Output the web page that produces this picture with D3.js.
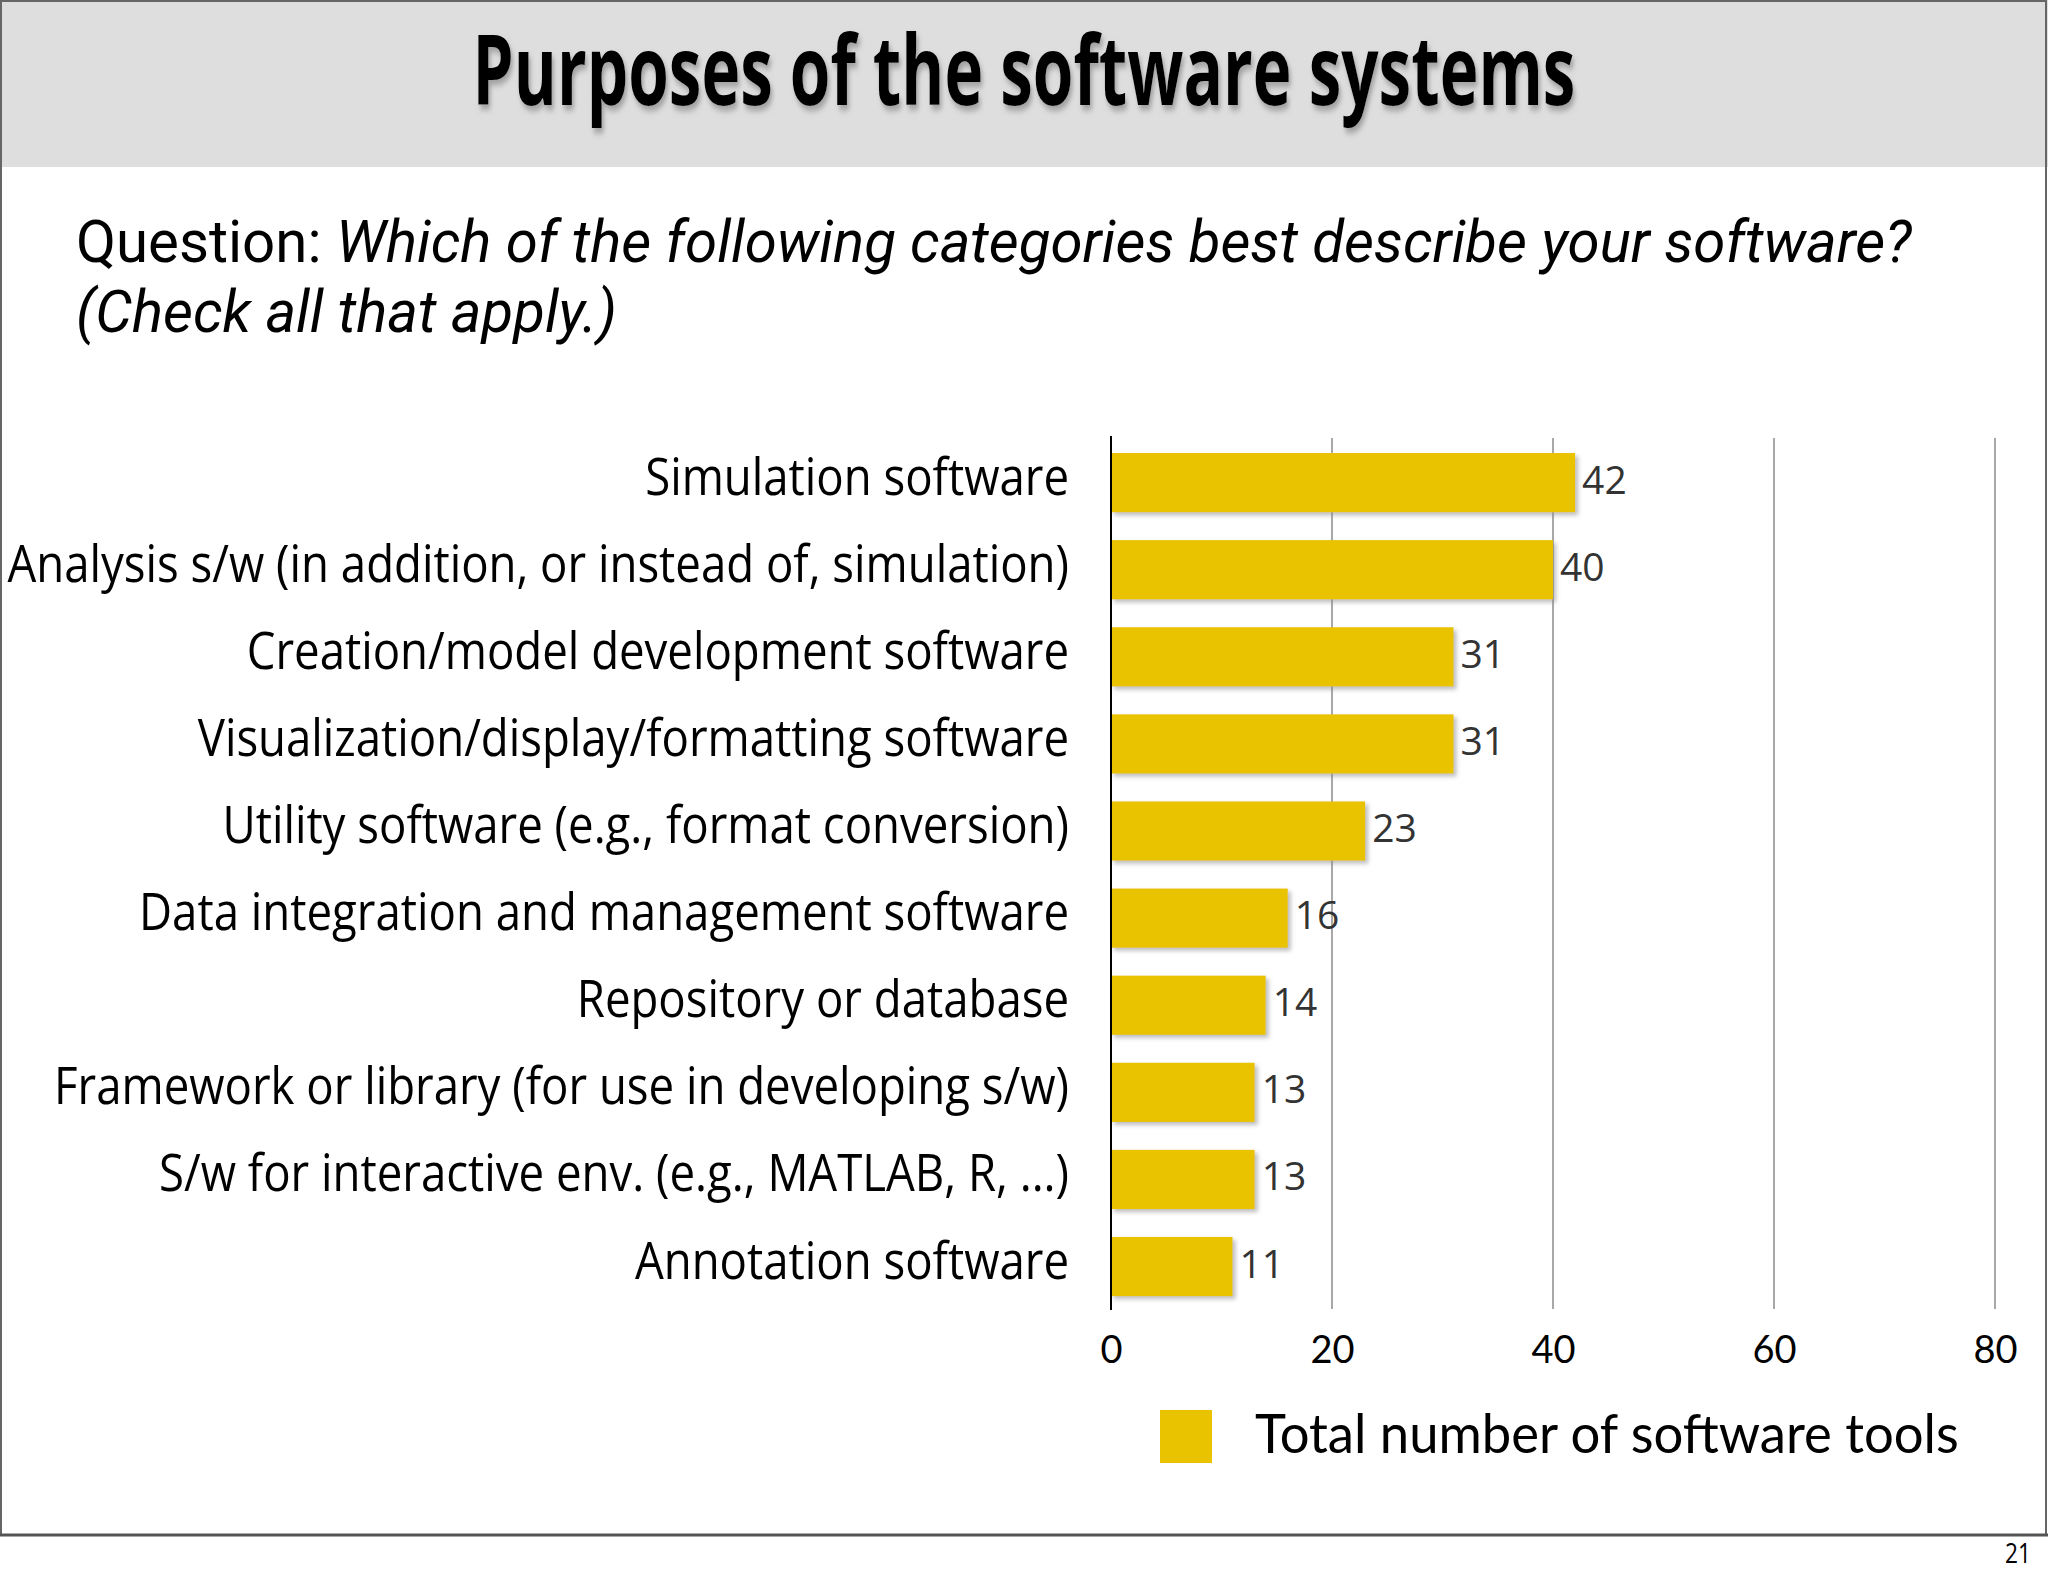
<!DOCTYPE html>
<html>
<head>
<meta charset="utf-8">
<script src="https://cdn.jsdelivr.net/npm/d3@7"></script>
<style>
  html, body { margin: 0; padding: 0; background: #fff; }
  svg { display: block; }
</style>
</head>
<body>
<div id="chart"></div>
<script>
// datos del grafico
const categories = [
  "Simulation software",
  "Analysis s/w (in addition, or instead of, simulation)",
  "Creation/model development software",
  "Visualization/display/formatting software",
  "Utility software (e.g., format conversion)",
  "Data integration and management software",
  "Repository or database",
  "Framework or library (for use in developing s/w)",
  "S/w for interactive env. (e.g., MATLAB, R, ...)",
  "Annotation software"
];
const values = [42, 40, 31, 31, 23, 16, 14, 13, 13, 11];
const tickValues = [0, 20, 40, 60, 80];
const seriesName = "Total number of software tools";

const WIDTH = 2048;
const HEIGHT = 1576;
const BAR_COLOR = "#e9c200";

const svg = d3.select("#chart").append("svg")
    .attr("width", WIDTH)
    .attr("height", HEIGHT);

const defs = svg.append("defs");
defs.append("filter").attr("id", "titleShadow")
    .attr("x", "-5%").attr("y", "-20%").attr("width", "110%").attr("height", "150%")
  .append("feDropShadow")
    .attr("dx", 3).attr("dy", 5).attr("stdDeviation", 3)
    .attr("flood-color", "#777").attr("flood-opacity", 0.6);
defs.append("filter").attr("id", "barShadow")
    .attr("x", "-5%").attr("y", "-20%").attr("width", "110%").attr("height", "150%")
  .append("feDropShadow")
    .attr("dx", 3).attr("dy", 3).attr("stdDeviation", 2)
    .attr("flood-color", "#888").attr("flood-opacity", 0.55);

// encoge el texto en horizontal hasta el ancho pedido
function fitWidth(textSel, x, y, target) {
  const w = textSel.node().getComputedTextLength();
  const s = target / w;
  textSel.attr("transform", `translate(${x},${y}) scale(${s},1)`);
  return s;
}

// cabecera gris y marco
svg.append("rect")
    .attr("x", 0).attr("y", 0).attr("width", WIDTH).attr("height", 167)
    .attr("fill", "#dedede");
svg.append("rect")
    .attr("x", 1).attr("y", 1).attr("width", WIDTH - 3).attr("height", 1534)
    .attr("fill", "none").attr("stroke", "#666").attr("stroke-width", 2);
svg.append("line")
    .attr("x1", 0).attr("x2", WIDTH).attr("y1", 1535).attr("y2", 1535)
    .attr("stroke", "#555").attr("stroke-width", 3);

const title = svg.append("text")
    .attr("text-anchor", "middle")
    .attr("font-family", "'Open Sans', sans-serif")
    .attr("font-weight", "bold")
    .attr("font-size", 96)
    .attr("fill", "#000")
    .attr("filter", "url(#titleShadow)")
    .text("Purposes of the software systems");
fitWidth(title, 1024, 105, 1103);

// pregunta: tres textos separados
const qFont = text => svg.append("text")
    .attr("font-family", "Roboto, sans-serif")
    .attr("font-size", 59)
    .attr("fill", "#000")
    .text(text);
const qLabel = qFont("Question:\u00a0");
const qBody = qFont("Which of the following categories best describe your software?")
    .attr("font-style", "italic");
const qLine2 = qFont("(Check all that apply.)")
    .attr("font-style", "italic");
const wLabel = qLabel.node().getComputedTextLength();
const wBody = qBody.node().getComputedTextLength();
const qs = 1836 / (wLabel + wBody);
qLabel.attr("transform", `translate(76,262) scale(${qs},1)`);
qBody.attr("transform", `translate(${76 + wLabel * qs},262) scale(${qs},1)`);
qLine2.attr("transform", `translate(76,332) scale(${qs},1)`);

// escalas
const x = d3.scaleLinear()
    .domain([0, 80])
    .range([1111, 1995]);

const y = d3.scaleBand()
    .domain(categories)
    .range([435.6, 1313.6])
    .paddingInner(0.32)
    .paddingOuter(0.2);

const AXIS_TOP = 436, AXIS_BOTTOM = 1310;

// lineas de la grilla
svg.append("g").selectAll("line")
    .data(tickValues.filter(d => d > 0))
    .join("line")
    .attr("x1", d => x(d)).attr("x2", d => x(d))
    .attr("y1", AXIS_TOP + 2).attr("y2", AXIS_BOTTOM - 1)
    .attr("stroke", "#a8a8a8").attr("stroke-width", 2);

// barras
svg.append("g").selectAll("rect")
    .data(values)
    .join("rect")
    .attr("x", x(0))
    .attr("y", (d, i) => y(categories[i]))
    .attr("width", d => x(d) - x(0))
    .attr("height", y.bandwidth())
    .attr("fill", BAR_COLOR)
    .attr("filter", "url(#barShadow)");

// eje vertical
svg.append("line")
    .attr("x1", x(0)).attr("x2", x(0))
    .attr("y1", AXIS_TOP).attr("y2", AXIS_BOTTOM)
    .attr("stroke", "#000").attr("stroke-width", 2);

// valores al final de cada barra
svg.append("g").selectAll("text")
    .data(values)
    .join("text")
    .attr("x", d => x(d) + 7)
    .attr("y", (d, i) => y(categories[i]) + y.bandwidth() / 2 + 11)
    .attr("font-family", "'Open Sans', sans-serif")
    .attr("font-size", 39)
    .attr("fill", "#333")
    .text(d => d);

// nombres de las categorias
const labelSel = svg.append("g").selectAll("text")
    .data(categories)
    .join("text")
    .attr("text-anchor", "end")
    .attr("font-family", "'Open Sans', sans-serif")
    .attr("font-size", 52)
    .attr("fill", "#000")
    .text(d => d);
const longest = d3.max(labelSel.nodes(), n => n.getComputedTextLength());
const ls = 1062 / longest;
labelSel.attr("transform", d => `translate(1069,${y(d) + y.bandwidth() / 2 + 12}) scale(${ls},1)`);

// eje x
const axisBottom = d3.axisBottom(x).tickValues(tickValues).tickSize(0).tickPadding(0);
const xAxis = svg.append("g")
    .attr("transform", `translate(0, 1363)`)
    .call(axisBottom);
xAxis.select(".domain").remove();
xAxis.selectAll("text")
    .attr("dy", 0)
    .attr("y", 0)
    .attr("font-family", "Lato, sans-serif")
    .attr("font-size", 38)
    .attr("fill", "#000");

// leyenda
svg.append("rect")
    .attr("x", 1160).attr("y", 1410)
    .attr("width", 52).attr("height", 53)
    .attr("fill", BAR_COLOR);
const legendText = svg.append("text")
    .attr("font-family", "Lato, sans-serif")
    .attr("font-size", 54)
    .attr("fill", "#000")
    .text(seriesName);
fitWidth(legendText, 1255, 1453, 704);

// numero de pagina
const pageNum = svg.append("text")
    .attr("text-anchor", "end")
    .attr("font-family", "'Open Sans', sans-serif")
    .attr("font-size", 27)
    .attr("fill", "#000")
    .text("21");
fitWidth(pageNum, 2031, 1563, 26);
</script>
</body>
</html>
